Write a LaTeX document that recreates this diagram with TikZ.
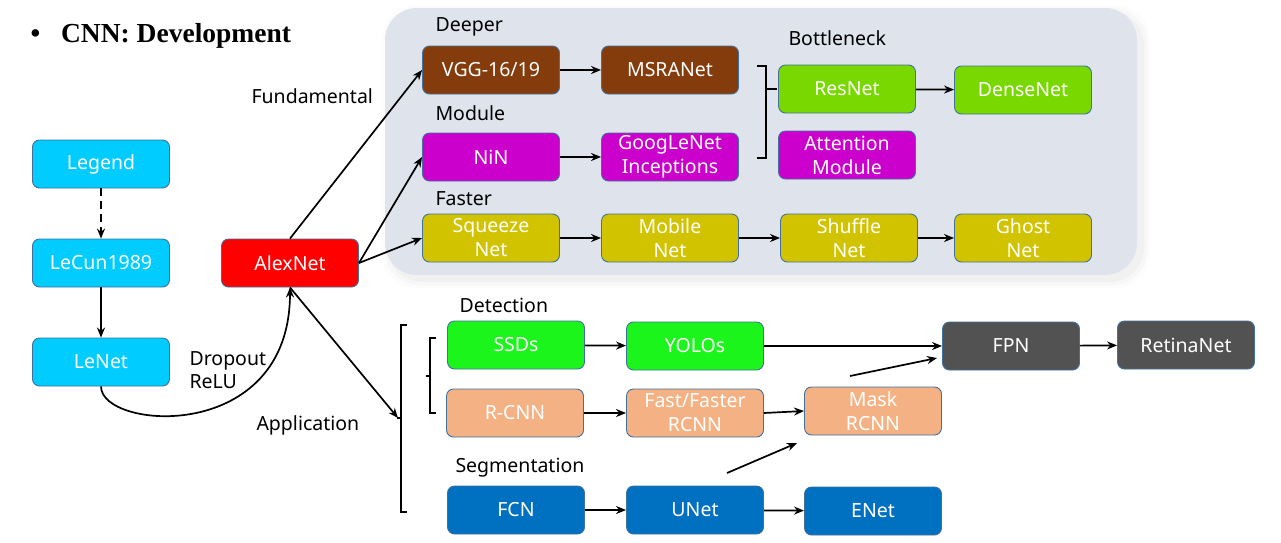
\documentclass[tikz,border=0pt]{standalone}
\usepackage{fontspec}
\setmainfont{Noto Sans}
\newfontfamily\titlefont{Liberation Serif}
\usepackage{tikz}
\usetikzlibrary{arrows.meta,positioning}
\definecolor{panelbg}{RGB}{223,228,236}
\definecolor{netedge}{RGB}{65,113,156}
\definecolor{cyanbox}{RGB}{0,204,255}
\definecolor{brownbox}{RGB}{132,60,12}
\definecolor{magbox}{RGB}{204,0,204}
\definecolor{olivebox}{RGB}{210,195,0}
\definecolor{limebox}{RGB}{120,216,0}
\definecolor{greenbox}{RGB}{28,245,28}
\definecolor{salmonbox}{RGB}{244,177,131}
\definecolor{darkbox}{RGB}{82,82,82}
\definecolor{bluebox}{RGB}{0,112,192}
\def\NetW{137pt}
\def\NetH{48pt}

\begin{document}
\begin{tikzpicture}[x=1pt,y=-1pt,
	net/.style={draw=netedge,line width=0.9pt,rounded corners=7pt,minimum width=\NetW,minimum height=\NetH,inner sep=1pt,align=center,text=white,font=\fontsize{19.5}{24}\selectfont},
	lab/.style={anchor=west,align=left,font=\fontsize{19.5}{23}\selectfont},
	arr/.style={-{Stealth[length=10pt,width=8pt]},line width=1.7pt},
	brk/.style={line width=1.5pt}]
	\useasboundingbox (0,0) rectangle (1281,542);
	\fill[white] (0,0) rectangle (1281,542);
	% panel with soft shadow
	\foreach \d/\o in {8/0.012,5/0.018,2/0.025}
		\fill[black,opacity=\o,rounded corners=34pt] ({385-\d+5},{8-\d+5}) rectangle ({1137+\d+5},{275+\d+5});
	\fill[panelbg,rounded corners=32pt] (385,8) rectangle (1137,275);

	\node[anchor=west,font=\titlefont\bfseries\fontsize{27.5}{30}\selectfont] (title) at (27,36) {\textbullet\hspace{21pt}CNN: Development};

	\node[net,fill=cyanbox] (legend) at (101,164) {Legend};
	\node[net,fill=cyanbox] (lecun) at (101,263) {LeCun1989};
	\node[net,fill=cyanbox] (lenet) at (101,362) {LeNet};
	\node[net,fill=red] (alexnet) at (290,263) {AlexNet};

	\node[net,fill=brownbox] (vgg) at (491,70) {VGG-16/19};
	\node[net,fill=brownbox] (msra) at (670,70) {MSRANet};
	\node[net,fill=magbox] (nin) at (491,157) {NiN};
	\node[net,fill=magbox] (google) at (670,157) {GoogLeNet\\Inceptions};
	\node[net,fill=limebox] (resnet) at (847,89) {ResNet};
	\node[net,fill=limebox] (densenet) at (1023,90) {DenseNet};
	\node[net,fill=magbox] (attention) at (847,155) {Attention\\Module};
	\node[net,fill=olivebox] (squeeze) at (491,238) {Squeeze\\Net};
	\node[net,fill=olivebox] (mobile) at (670,238) {Mobile\\Net};
	\node[net,fill=olivebox] (shuffle) at (849,238) {Shuffle\\Net};
	\node[net,fill=olivebox] (ghost) at (1023,238) {Ghost\\Net};

	\node[net,fill=greenbox] (ssds) at (516,345) {SSDs};
	\node[net,fill=greenbox] (yolos) at (695,346) {YOLOs};
	\node[net,fill=darkbox] (fpn) at (1011,346) {FPN};
	\node[net,fill=darkbox] (retina) at (1186,345) {RetinaNet};
	\node[net,fill=salmonbox] (rcnn) at (515,413) {R-CNN};
	\node[net,fill=salmonbox] (fast) at (695,413) {Fast/Faster\\RCNN};
	\node[net,fill=salmonbox] (mask) at (873,411) {Mask\\RCNN};
	\node[net,fill=bluebox] (fcn) at (516,510) {FCN};
	\node[net,fill=bluebox] (unet) at (695,510) {UNet};
	\node[net,fill=bluebox] (enet) at (873,511) {ENet};

	\node[lab] (fundamental) at (248,96) {Fundamental};
	\node[lab] (deeper) at (432,27) {Deeper};
	\node[lab] (module) at (432,113) {Module};
	\node[lab] (faster) at (432,199) {Faster};
	\node[lab] (bottleneck) at (785,38) {Bottleneck};
	\node[lab] (detection) at (456,305) {Detection};
	\node[lab] (segmentation) at (452,468) {Segmentation};
	\node[lab] (application) at (253,425) {Application};
	\node[lab] (dropout) at (186,370) {Dropout\\ReLU};

	\coordinate (apptip) at (398,418);
	\coordinate (maskout) at (850,376);
	\coordinate (fpnin) at (937,358);
	\coordinate (unetout) at (727,473);
	\coordinate (maskin) at (797,443);

	% brackets
	\draw[brk] (407,325) -- (401,325) -- (401,512) -- (407,512) (401,418) -- (397,418);
	\draw[brk] (436,338) -- (430,338) -- (430,413) -- (436,413) (430,376) -- (426,376);
	\draw[brk] (757,66) -- (766,66) -- (766,158) -- (757,158) (766,89) -- (777,89);

	\draw[arr,dash pattern=on 8pt off 5pt] (legend) -- (lecun);
	\draw[arr] (lecun) -- (lenet);
	\draw[arr] (lenet.south) .. controls (101,430) and (290,445) .. (alexnet.south);
	\draw[arr] (alexnet.north) -- (vgg.west);
	\draw[arr] (alexnet.east) -- (nin.west);
	\draw[arr] (alexnet.east) -- (squeeze.west);
	\draw[arr] (alexnet.south) -- (apptip);

	\draw[arr] (vgg) -- (msra);
	\draw[arr] (nin) -- (google);
	\draw[arr] (resnet) -- (densenet);
	\draw[arr] (squeeze) -- (mobile);
	\draw[arr] (mobile) -- (shuffle);
	\draw[arr] (shuffle) -- (ghost);

	\draw[arr] (ssds) -- (yolos);
	\draw[arr] (yolos) -- (fpn);
	\draw[arr] (fpn) -- (retina);
	\draw[arr] (rcnn) -- (fast);
	\draw[arr] (fast.east) -- (mask.west);
	\draw[arr] (maskout) -- (fpnin);
	\draw[arr] (unetout) -- (maskin);
	\draw[arr] (fcn) -- (unet);
	\draw[arr] (unet) -- (enet);
\end{tikzpicture}
\end{document}
